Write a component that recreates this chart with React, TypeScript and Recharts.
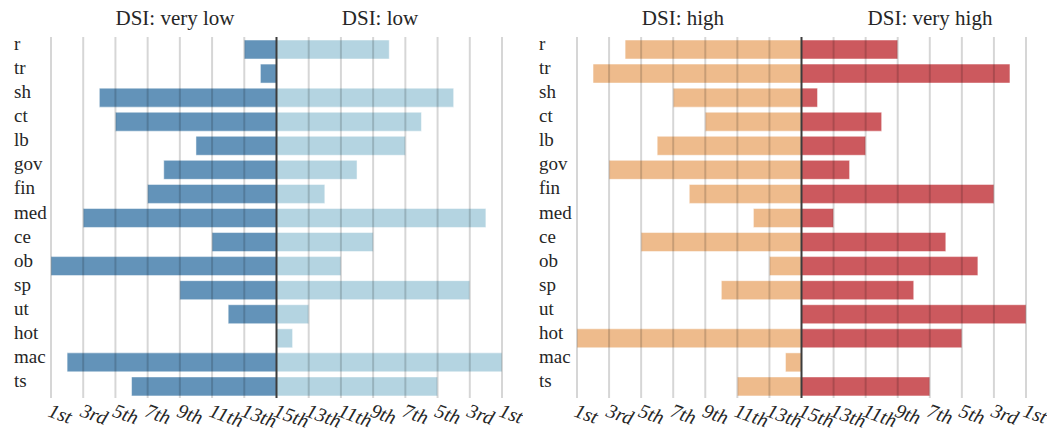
import React from 'react';
import { BarChart, Bar, XAxis, YAxis, ReferenceLine } from 'recharts';

const categories = ['r', 'tr', 'sh', 'ct', 'lb', 'gov', 'fin', 'med', 'ce', 'ob', 'sp', 'ut', 'hot', 'mac', 'ts'];
const veryLowRank = [13, 14, 4, 5, 10, 8, 7, 3, 11, 1, 9, 12, 15, 2, 6];
const lowRank = [8, 15, 4, 6, 7, 10, 12, 2, 9, 11, 3, 13, 14, 1, 5];
const highRank = [4, 2, 7, 9, 6, 3, 8, 12, 5, 13, 10, 15, 1, 14, 11];
const veryHighRank = [9, 2, 14, 10, 11, 12, 3, 13, 6, 4, 8, 1, 5, 15, 7];
const xTicks = [-14, -12, -10, -8, -6, -4, -2, 0, 2, 4, 6, 8, 10, 12, 14];
const tickLabels = ['1st', '3rd', '5th', '7th', '9th', '11th', '13th', '15th', '13th', '11th', '9th', '7th', '5th', '3rd', '1st'];
const MAX_RANK = 15;

const leftData = categories.map((c, i) => ({
  cat: c,
  left: -(MAX_RANK - veryLowRank[i]),
  right: MAX_RANK - lowRank[i],
}));
const rightData = categories.map((c, i) => ({
  cat: c,
  left: -(MAX_RANK - highRank[i]),
  right: MAX_RANK - veryHighRank[i],
}));

const FONT = '"Liberation Serif", "Times New Roman", serif';
const AXIS_BOTTOM = 398;

const XTick = (props: any) => {
  const { x, payload } = props;
  const idx = xTicks.indexOf(payload.value);
  const label = idx >= 0 ? tickLabels[idx] : '';
  const tx = x - 4;
  const ty = AXIS_BOTTOM + 18;
  return (
    <text
      x={tx}
      y={ty}
      transform={`rotate(20, ${tx}, ${ty})`}
      textAnchor="start"
      fontFamily={FONT}
      fontStyle="italic"
      fontSize={20}
      fill="#262626"
    >
      {label}
    </text>
  );
};

const makeYTick = (lx: number) => (props: any) => {
  const { y, payload } = props;
  return (
    <text x={lx} y={y + 1} textAnchor="start" fontFamily={FONT} fontSize={19} fill="#262626">
      {payload.value}
    </text>
  );
};

const Panel = ({ data, leftColor, rightColor, yLabelX, marginLeft }: any) => (
  <BarChart
    width={523}
    height={432}
    data={data}
    layout="vertical"
    stackOffset="sign"
    margin={{ top: 37, right: 21, bottom: 0, left: 0 }}
    barSize={19}
  >
    <XAxis
      type="number"
      domain={[-14, 14]}
      ticks={xTicks}
      interval={0}
      axisLine={false}
      tickLine={false}
      height={34}
      tick={<XTick />}
      allowDataOverflow
    />
    <YAxis
      type="category"
      dataKey="cat"
      width={marginLeft}
      axisLine={false}
      tickLine={false}
      interval={0}
      tick={makeYTick(yLabelX)}
    />
    <Bar dataKey="left" stackId="s" fill={leftColor} stroke="#ffffff" strokeOpacity={0.5} strokeWidth={1} isAnimationActive={false} />
    <Bar dataKey="right" stackId="s" fill={rightColor} stroke="#ffffff" strokeOpacity={0.5} strokeWidth={1} isAnimationActive={false} />
    {xTicks.filter((t) => t !== 0).map((t) => (
      <ReferenceLine key={t} x={t} stroke="rgba(0,0,0,0.16)" strokeWidth={2} />
    ))}
    <ReferenceLine x={0} stroke="#3c3c3c" strokeWidth={2} />
  </BarChart>
);

const titleStyle = (cx: number): React.CSSProperties => ({
  position: 'absolute',
  left: cx - 100,
  width: 200,
  top: 6,
  textAlign: 'center',
  fontFamily: FONT,
  fontSize: 21,
  lineHeight: '24px',
  color: '#262626',
  whiteSpace: 'nowrap',
});

export default function App() {
  return (
    <div style={{ position: 'absolute', left: 0, top: 0, width: 1047, height: 432, background: '#fff', overflow: 'hidden' }}>
      <div style={{ position: 'absolute', left: 0, top: 0 }}>
        <Panel data={leftData} leftColor="#6393b9" rightColor="#b4d4e1" yLabelX={14} marginLeft={51} />
      </div>
      <div style={{ position: 'absolute', left: 524, top: 0 }}>
        <Panel data={rightData} leftColor="#eebb8c" rightColor="#cc595e" yLabelX={15} marginLeft={53} />
      </div>
      <div style={titleStyle(175)}>DSI: very low</div>
      <div style={titleStyle(380)}>DSI: low</div>
      <div style={titleStyle(683)}>DSI: high</div>
      <div style={titleStyle(930)}>DSI: very high</div>
    </div>
  );
}
